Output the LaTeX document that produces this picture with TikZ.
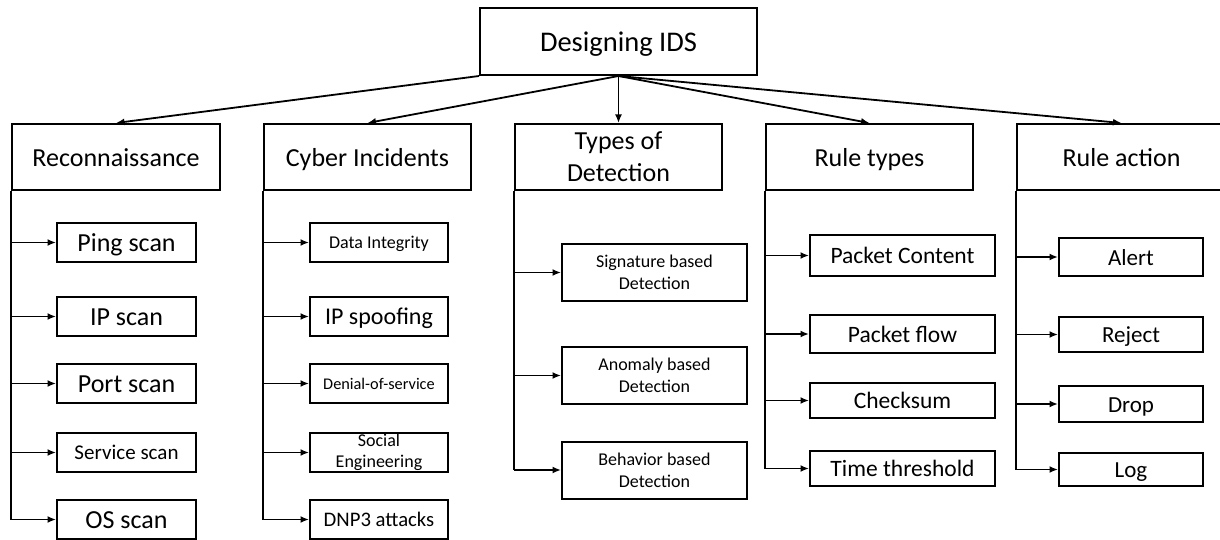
\documentclass[tikz,border=0pt]{standalone}
\usepackage{fontspec}
\setmainfont{Carlito}
\usetikzlibrary{arrows.meta}

\begin{document}
\begin{tikzpicture}[x=1pt,y=-1pt,
  box/.style={draw, line width=2pt, inner sep=0pt, align=center, text=black},
  % two-line labels: size and baseline skip
  sz/.style 2 args={font=\fontsize{#1}{#2}\selectfont},
  % one-line labels: size, with a fixed text height so the capitals sit centred
  one/.code={%
    \pgfmathsetlengthmacro\labelht{0.7*#1}%
    \edef\labelset{\noexpand\tikzset{font=\noexpand\fontsize{#1}{#1}\noexpand\selectfont,
      text height=\labelht, text depth=0pt}}\labelset},
  head/.style={box, minimum width=207pt, minimum height=66pt},
  conn/.style={line width=1.8pt, -{Latex[length=8.5pt,width=7pt]}},
  trunkline/.style={line width=2pt},
]
\useasboundingbox (0,0) rectangle (1220,540);

% root
\node[box, one=28.5, minimum width=277pt, minimum height=67pt] (root) at (618.5,41.5) {Designing IDS};

% category heads
\node[head, one=26, minimum width=208pt] (rec) at (116,157)   {Reconnaissance};
\node[head, one=26] (cyb) at (367.5,157) {Cyber Incidents};
\node[head, sz={26}{32}] (typ) at (618.5,157) {Types of\\Detection};
\node[head, one=26] (rty) at (869.5,157) {Rule types};
\node[head, one=26, minimum width=209pt] (rac) at (1121.5,157) {Rule action};

\draw[conn] (root.south west) -- (rec.north);
\draw[conn] (root.south) -- (cyb.north);
\draw[conn] (root.south) -- (typ.north);
\draw[conn] (root.south) -- (rty.north);
\draw[conn] (root.south) -- (rac.north);

% Reconnaissance
\tikzset{recbox/.style={box, minimum width=139pt, minimum height=39pt}}
\node[recbox, one=26] (ping) at (126.5,242.5) {Ping scan};
\node[recbox, one=26] (ipscan) at (126.5,316.5) {IP scan};
\node[recbox, one=26] (port) at (126.5,383.5) {Port scan};
\node[recbox, one=21] (serv) at (126.5,452.5) {Service scan};
\node[recbox, one=26] (os) at (126.5,519.5) {OS scan};
\draw[trunkline] (rec.south west) -- (rec.south west |- os.west);
\foreach \n in {ping,ipscan,port,serv,os}
  \draw[conn] (rec.south west |- \n.west) -- (\n.west);

% Cyber incidents
\tikzset{cybbox/.style={box, minimum width=138pt, minimum height=39pt}}
\node[cybbox, one=18] (integ) at (379,242.5) {Data Integrity};
\node[cybbox, one=24] (spoof) at (379,316.5) {IP spoofing};
\node[cybbox, one=16.3] (dos) at (379,383.5) {Denial-of-service};
\node[cybbox, sz={18}{21.5}] (social) at (379,452.5) {Social\\Engineering};
\node[cybbox, one=20.7] (dnp) at (379,519.5) {DNP3 attacks};
\draw[trunkline] (cyb.south west) -- (cyb.south west |- dnp.west);
\foreach \n in {integ,spoof,dos,social,dnp}
  \draw[conn] (cyb.south west |- \n.west) -- (\n.west);

% Types of detection
\tikzset{typbox/.style={box, minimum width=185pt, minimum height=57pt, sz={18}{21.7}}}
\node[typbox] (sig) at (654.5,272.5) {Signature based\\Detection};
\node[typbox] (anom) at (654.5,375.5) {Anomaly based\\Detection};
\node[typbox] (behav) at (654.5,470) {Behavior based\\Detection};
\draw[trunkline] (typ.south west) -- (typ.south west |- behav.west);
\foreach \n in {sig,anom,behav}
  \draw[conn] (typ.south west |- \n.west) -- (\n.west);

% Rule types
\tikzset{rtbox/.style={box, one=23.5, minimum width=185pt}}
\node[rtbox, minimum height=41pt] (pcont) at (902.5,255.5) {Packet Content};
\node[rtbox, minimum height=38pt] (pflow) at (902.5,334) {Packet flow};
\node[rtbox, minimum height=35pt] (csum) at (902.5,400.5) {Checksum};
\node[rtbox, minimum height=35pt] (tthr) at (902.5,468.5) {Time threshold};
\draw[trunkline] (rty.south west) -- (rty.south west |- tthr.west);
\foreach \n in {pcont,pflow,csum,tthr}
  \draw[conn] (rty.south west |- \n.west) -- (\n.west);

% Rule action
\tikzset{rabox/.style={box, one=23, minimum width=144pt}}
\node[rabox, minimum height=38pt] (alert) at (1131,257) {Alert};
\node[rabox, minimum height=35pt] (reject) at (1131,334.5) {Reject};
\node[rabox, minimum height=36pt] (drop) at (1131,404) {Drop};
\node[rabox, minimum height=33pt] (log) at (1131,469.5) {Log};
\draw[trunkline] (rac.south west) -- (rac.south west |- log.west);
\foreach \n in {alert,reject,drop,log}
  \draw[conn] (rac.south west |- \n.west) -- (\n.west);
\end{tikzpicture}
\end{document}
